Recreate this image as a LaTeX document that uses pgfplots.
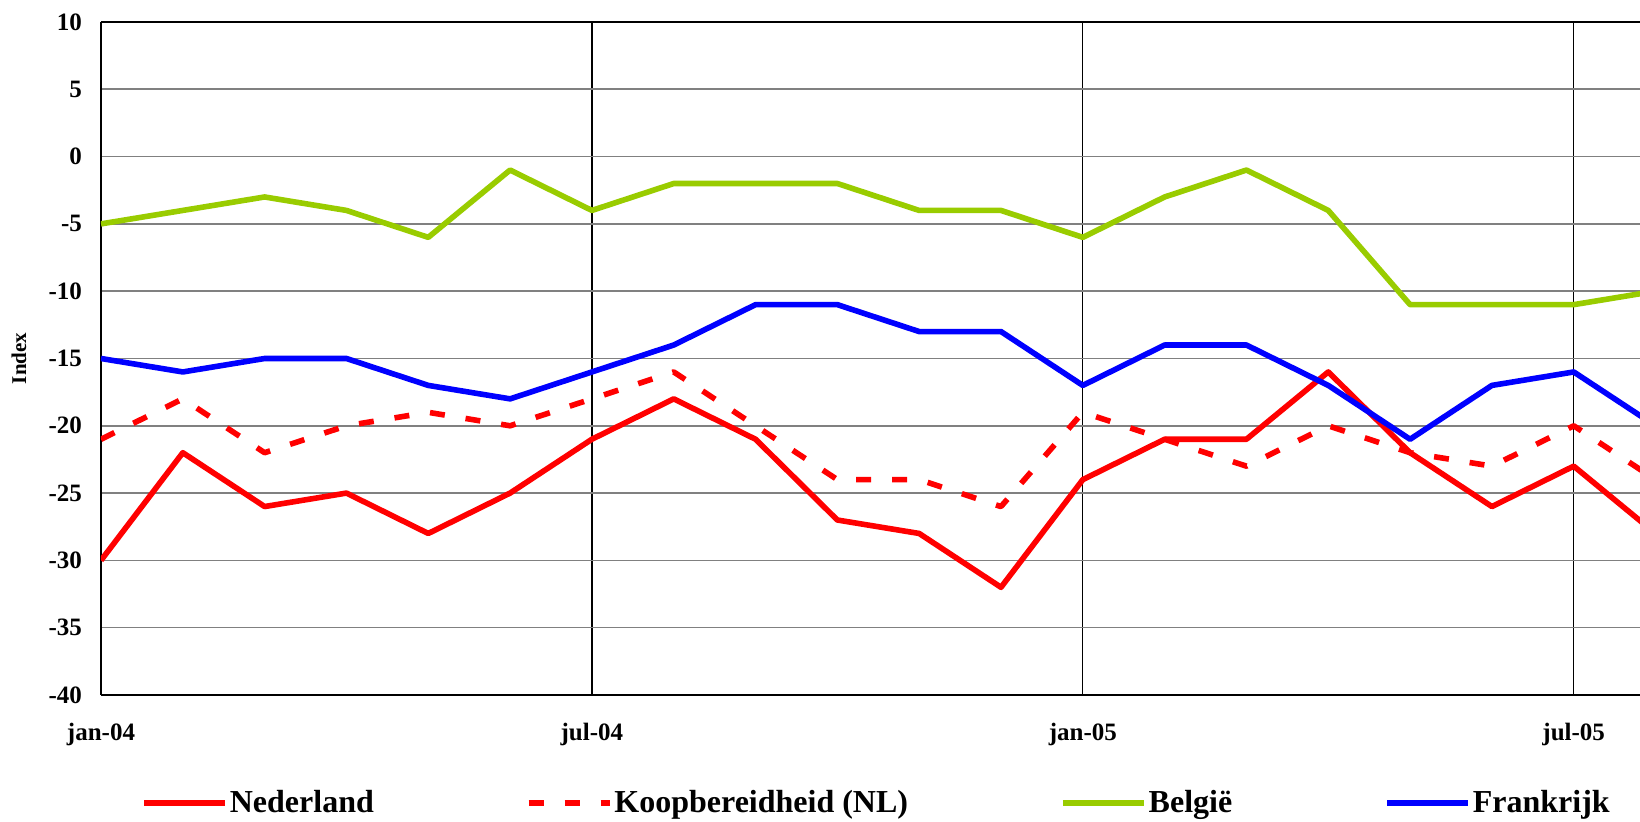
\documentclass[border=0pt]{standalone}
\usepackage{fontspec}
\setmainfont{Liberation Serif}
\usepackage{pgfplots}
\pgfplotsset{compat=1.18}
\definecolor{nlred}{RGB}{255,0,0}
\definecolor{begreen}{RGB}{153,204,0}
\definecolor{frblue}{RGB}{0,0,255}
\begin{document}
\begin{tikzpicture}
\useasboundingbox (-50.5pt,-63.5pt) rectangle (769.5pt,347.5pt);
\begin{axis}[
  at={(0,0)}, anchor=south west,
  scale only axis, width=769.5pt, height=336.5pt,
  xmin=0, xmax=18.81, ymin=-40, ymax=10,
  axis lines=left,
  axis line style={-, line width=0.8pt, black},
  major tick length=0pt,
  xtick={0,6,12,18},
  xticklabels={jan-04,jul-04,jan-05,jul-05},
  ytick={-40,-35,...,10},
  /pgf/number format/assume math mode=true,
  tick label style={font=\fontsize{12.5}{14}\selectfont\bfseries},
  yticklabel style={anchor=east, xshift=-6pt},
  xticklabel style={anchor=center, yshift=-20pt},
  xmajorgrids, ymajorgrids,
  x grid style={black, line width=0.6pt},
  y grid style={gray, line width=0.8pt},
  ylabel={Index},
  every axis y label/.style={at={(axis description cs:0,0.5)}, rotate=90, anchor=center, yshift=41pt, font=\fontsize{10.5}{12}\selectfont\bfseries},
  legend columns=4,
  legend style={at={(axis description cs:0.5,0)}, anchor=center, yshift=-54pt, xshift=3pt, draw=none, fill=none,
    font=\fontsize{16}{19}\selectfont\bfseries,
    nodes={inner xsep=1pt},
    /tikz/every even column/.append style={column sep=75pt}},
  legend image code/.code={\draw[#1, line cap=butt] (0pt,0pt) -- (40.5pt,0pt);},
  every axis plot/.append style={line width=2.8pt, line join=round},
]
\addplot[nlred] coordinates {(0,-30)(1,-22)(2,-26)(3,-25)(4,-28)(5,-25)(6,-21)(7,-18)(8,-21)(9,-27)(10,-28)(11,-32)(12,-24)(13,-21)(14,-21)(15,-16)(16,-22)(17,-26)(18,-23)(19,-28)};
\addlegendentry{Nederland}
\addplot[nlred, dash pattern=on 7.5pt off 10.5pt, line cap=butt] coordinates {(0,-21)(1,-18)(2,-22)(3,-20)(4,-19)(5,-20)(6,-18)(7,-16)(8,-20)(9,-24)(10,-24)(11,-26)(12,-19)(13,-21)(14,-23)(15,-20)(16,-22)(17,-23)(18,-20)(19,-24)};
\addlegendentry{Koopbereidheid (NL)}
\addplot[begreen] coordinates {(0,-5)(1,-4)(2,-3)(3,-4)(4,-6)(5,-1)(6,-4)(7,-2)(8,-2)(9,-2)(10,-4)(11,-4)(12,-6)(13,-3)(14,-1)(15,-4)(16,-11)(17,-11)(18,-11)(19,-10)};
\addlegendentry{België}
\addplot[frblue] coordinates {(0,-15)(1,-16)(2,-15)(3,-15)(4,-17)(5,-18)(6,-16)(7,-14)(8,-11)(9,-11)(10,-13)(11,-13)(12,-17)(13,-14)(14,-14)(15,-17)(16,-21)(17,-17)(18,-16)(19,-20)};
\addlegendentry{Frankrijk}
\draw[black, line width=0.8pt] (rel axis cs:0,1) -- (rel axis cs:1,1);
\end{axis}
\end{tikzpicture}
\end{document}
